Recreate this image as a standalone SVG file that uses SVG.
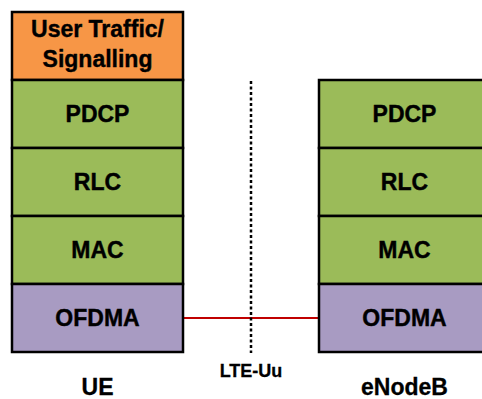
<svg xmlns="http://www.w3.org/2000/svg" width="482" height="399" viewBox="0 0 482 399">
<style>
.box{stroke:#000;stroke-width:2.5}
.green{fill:#9BBB59}
.purple{fill:#A89BC2}
.orange{fill:#F79646}
.t{font-family:"Liberation Sans",Arial,sans-serif;font-weight:bold;font-size:23px;text-anchor:middle;fill:#000;stroke:#000;stroke-width:0.4}
.lbl{font-family:"Liberation Sans",Arial,sans-serif;font-weight:bold;font-size:23px;text-anchor:middle;fill:#000;stroke:#000;stroke-width:0.3}
</style>
<rect width="482" height="399" fill="#fff"/>
<g id="connectors">
<line x1="183" y1="318" x2="319" y2="318" stroke="#C00000" stroke-width="2"/>
<line x1="251" y1="81" x2="251" y2="353" stroke="#000" stroke-width="2.5" stroke-dasharray="3,2.5"/>
</g>
<g id="ue">
<rect class="box orange" x="12" y="12" width="171" height="68"/>
<text class="t" x="97.5" y="37">User Traffic/</text>
<text class="t" x="97.5" y="67">Signalling</text>
<rect class="box green" x="12" y="80" width="171" height="68"/>
<text class="t" x="97.5" y="122">PDCP</text>
<rect class="box green" x="12" y="148" width="171" height="68"/>
<text class="t" x="97.5" y="190">RLC</text>
<rect class="box green" x="12" y="216" width="171" height="68"/>
<text class="t" x="97.5" y="258">MAC</text>
<rect class="box purple" x="12" y="284" width="171" height="68"/>
<text class="t" x="97.5" y="326">OFDMA</text>
<text class="lbl" x="97.5" y="395">UE</text>
</g>
<g id="enodeb">
<rect class="box green" x="319" y="80" width="171" height="68"/>
<text class="t" x="404.5" y="122">PDCP</text>
<rect class="box green" x="319" y="148" width="171" height="68"/>
<text class="t" x="404.5" y="190">RLC</text>
<rect class="box green" x="319" y="216" width="171" height="68"/>
<text class="t" x="404.5" y="258">MAC</text>
<rect class="box purple" x="319" y="284" width="171" height="68"/>
<text class="t" x="404.5" y="326">OFDMA</text>
<text class="lbl" x="404.5" y="395">eNodeB</text>
</g>
<g id="lte-uu">
<text class="lbl" x="251" y="377" style="font-size:18px">LTE-Uu</text>
</g>
</svg>
